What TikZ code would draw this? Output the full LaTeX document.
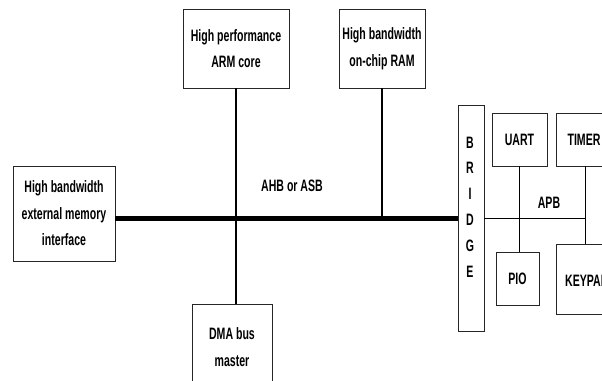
\documentclass[tikz,border=0pt]{standalone}
\usepackage{fontspec}
\setmainfont{Liberation Sans}[FakeStretch=0.64]
\begin{document}
\begin{tikzpicture}[x=1pt,y=-1pt,
  box/.style={draw=black!85,line width=1pt,inner sep=0pt,outer sep=0pt,fill=white},
  lab/.style={font=\fontsize{16.5}{26.5}\selectfont\bfseries,align=center,inner sep=0pt},
  conn/.style={line width=2pt},
  bus/.style={line width=5pt},
  apb/.style={line width=1pt}]
\useasboundingbox (0,0) rectangle (602,380);
\clip (0,0) rectangle (602,380);
% boxes
\node[box,minimum width=106pt,minimum height=79pt] (arm) at (236,48.5) {};
\node[box,minimum width=86pt,minimum height=79pt] (ram) at (382,48.5) {};
\node[box,minimum width=102pt,minimum height=95pt] (ext) at (64,213.5) {};
\node[box,minimum width=80pt,minimum height=90pt] (dma) at (232,349) {};
\node[box,minimum width=26pt,minimum height=226pt] (bridge) at (471,218) {};
\node[box,minimum width=55pt,minimum height=53pt] (uart) at (519.5,139.5) {};
\node[box,minimum width=58pt,minimum height=53pt] (timer) at (585,139.5) {};
\node[box,minimum width=43pt,minimum height=53pt] (pio) at (517.5,278.5) {};
\node[box,minimum width=66pt,minimum height=70pt] (keypad) at (589,279) {};
% texts
\node[lab] (armt) at (arm.center) {High performance\\ARM core};
\node[lab] (ramt) at (ram.center) {High bandwidth\\on-chip RAM};
\node[lab] (extt) at (ext.center) {High bandwidth\\external memory\\interface};
\node[lab] (dmat) at (232,347) {DMA bus\\master};
\node[lab,font=\fontsize{16.5}{25.8}\selectfont\bfseries] (brt) at (470,207) {B\\R\\I\\D\\G\\E};
\node[lab] (uartt) at (uart.center) {UART};
\node[lab] (timert) at (584,139.5) {TIMER};
\node[lab] (piot) at (pio.center) {PIO};
\node[lab,anchor=west] (keypadt) at (565,281) {KEYPAD};
\node[lab] (ahb) at (292,186) {AHB or ASB};
\node[lab] (apbt) at (549,203) {APB};
% bus
\coordinate (busl) at (ext.east |- 0,218);
\coordinate (busr) at (bridge.west |- 0,218);
\draw[bus] (busl) -- (busr);
\draw[conn] (arm.south) -- (arm.south |- dma.north);
\draw[conn] (ram.south) -- (ram.south |- busl);
% APB
\coordinate (apbl) at (bridge.east |- 0,218);
\coordinate (apbr) at (585,218);
\draw[apb] (apbl) -- (apbr);
\draw[apb] (uart.south) -- (uart.south |- pio.north);
\draw[apb] (apbr |- timer.south) -- (apbr |- keypad.north);
\end{tikzpicture}
\end{document}
